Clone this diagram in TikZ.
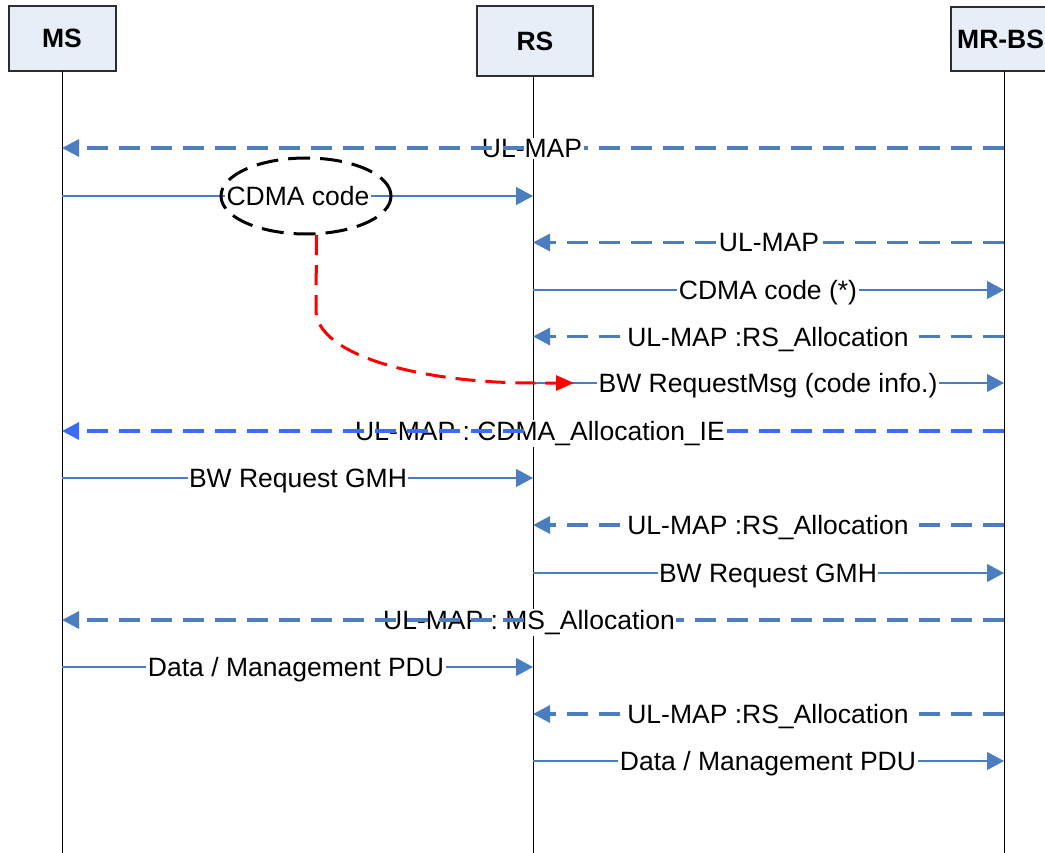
\documentclass[tikz,border=0pt]{standalone}
\usepackage{fontspec}
\setmainfont{Liberation Sans}
\usetikzlibrary{arrows.meta,shapes.geometric}
\definecolor{boxfill}{RGB}{232,238,248}
\definecolor{boxline}{RGB}{45,45,45}
\definecolor{msgblue}{RGB}{74,126,193}
\definecolor{brightblue}{RGB}{58,108,245}
\begin{document}
\begin{tikzpicture}[x=1pt,y=-1pt,
  entity/.style={draw=boxline,line width=2pt,fill=boxfill,inner sep=0pt,font=\fontsize{26.5}{30}\selectfont\bfseries},
  lifeline/.style={line width=0.9pt,black},
  sigline/.style={draw=msgblue,line width=1.1pt,-{Triangle[length=17pt,width=18pt]}},
  dashline/.style={draw=msgblue,line width=3.2pt,dash pattern=on 21pt off 11pt},
  dashtip/.style={-{Triangle[length=17pt,width=17pt]}},
  lbl/.style={font=\fontsize{26.5}{30}\selectfont,inner sep=1.5pt,anchor=base},
  lblw/.style={lbl,fill=white},
  oval/.style={ellipse,draw=black,line width=3pt,dash pattern=on 22pt off 10pt,minimum width=170pt,minimum height=76pt,inner sep=0pt},
  redline/.style={draw=red,line width=3pt,dash pattern=on 20pt off 10pt,-{Triangle[length=18pt,width=15pt]}}
]
\useasboundingbox (0,0) rectangle (1045,853);
\clip (0,0) rectangle (1045,853);

% entities
\node[entity,minimum width=107pt,minimum height=65pt] (ms) at (62,38.5) {MS};
\node[entity,minimum width=116pt,minimum height=70pt] (rs) at (535,41) {RS};
\node[entity,minimum width=106pt,minimum height=64pt] (bs) at (1004,39) {};
\node[font=\fontsize{26.5}{30}\selectfont\bfseries,inner sep=0pt,anchor=west] (bslabel) at (957,39) {MR-BS};

% lifelines
\coordinate (msL) at (62,71);
\coordinate (rsL) at (533,76);
\coordinate (bsL) at (1004,71);
\coordinate (bottom) at (0,853);
\draw[lifeline] (msL) -- (msL |- bottom);
\draw[lifeline] (rsL) -- (rsL |- bottom);
\draw[lifeline] (bsL) -- (bsL |- bottom);

% rows
\coordinate (r1) at (0,148);
\coordinate (r2) at (0,196);
\coordinate (r3) at (0,242.5);
\coordinate (r4) at (0,290);
\coordinate (r5) at (0,336.5);
\coordinate (r6) at (0,383);
\coordinate (r7) at (0,431);
\coordinate (r8) at (0,478);
\coordinate (r9) at (0,525);
\coordinate (r10) at (0,573);
\coordinate (r11) at (0,620);
\coordinate (r12) at (0,667);
\coordinate (r13) at (0,714);
\coordinate (r14) at (0,761);

% 1: UL-MAP  MR-BS -> MS
\draw[dashline] (bsL |- r1) -- (rsL |- r1);
\node[lblw] (l1) at (532,157.5) {UL-MAP};
\draw[dashline,dashtip,dash phase=23pt] (rsL |- r1) -- (msL |- r1);

% 2: CDMA code MS -> RS
\draw[sigline] (msL |- r2) -- (rsL |- r2);
\node[lblw] (l2) at (298,205.5) {CDMA code};
\node[oval] (ov) at (306,196) {};

% 3: UL-MAP MR-BS -> RS
\draw[dashline,dashtip] (bsL |- r3) -- (rsL |- r3);
\node[lblw] (l3) at (769,252) {UL-MAP};

% 4: CDMA code (*) RS -> MR-BS
\draw[sigline] (rsL |- r4) -- (bsL |- r4);
\node[lblw] (l4) at (768,299.5) {CDMA code (*)};

% 5
\draw[dashline,dashtip] (bsL |- r5) -- (rsL |- r5);
\node[lblw] (l5) at (768,346) {UL-MAP :RS\_Allocation};

% 6
\draw[sigline] (rsL |- r6) -- (bsL |- r6);
\node[lblw] (l6) at (768,392.5) {BW RequestMsg (code info.)};

% red curve
\coordinate (redEnd) at (574,383);
\draw[redline] (ov.-75) -- (316,310) .. controls (316,355) and (420,383) .. (533,383) -- (redEnd);

% 7: UL-MAP : CDMA_Allocation_IE  MR-BS -> MS
\draw[dashline,draw=brightblue] (bsL |- r7) -- (rsL |- r7);
\node[lblw] (l7) at (540,440.5) {UL-MAP : CDMA\_Allocation\_IE};
\draw[dashline,draw=brightblue,dashtip,dash phase=23pt] (rsL |- r7) -- (msL |- r7);

% 8
\draw[sigline] (msL |- r8) -- (rsL |- r8);
\node[lblw] (l8) at (298,487.5) {BW Request GMH};

% 9
\draw[dashline,dashtip] (bsL |- r9) -- (rsL |- r9);
\node[lblw] (l9) at (768,534.5) {UL-MAP :RS\_Allocation};

% 10
\draw[sigline] (rsL |- r10) -- (bsL |- r10);
\node[lblw] (l10) at (768,582.5) {BW Request GMH};

% 11: UL-MAP : MS_Allocation MR-BS -> MS
\draw[dashline] (bsL |- r11) -- (rsL |- r11);
\node[lblw] (l11) at (529,629.5) {UL-MAP : MS\_Allocation};
\draw[dashline,dashtip,dash phase=23pt] (rsL |- r11) -- (msL |- r11);

% 12
\draw[sigline] (msL |- r12) -- (rsL |- r12);
\node[lblw] (l12) at (296,676.5) {Data / Management PDU};

% 13
\draw[dashline,dashtip] (bsL |- r13) -- (rsL |- r13);
\node[lblw] (l13) at (768,723.5) {UL-MAP :RS\_Allocation};

% 14
\draw[sigline] (rsL |- r14) -- (bsL |- r14);
\node[lblw] (l14) at (768,770.5) {Data / Management PDU};
\end{tikzpicture}
\end{document}
